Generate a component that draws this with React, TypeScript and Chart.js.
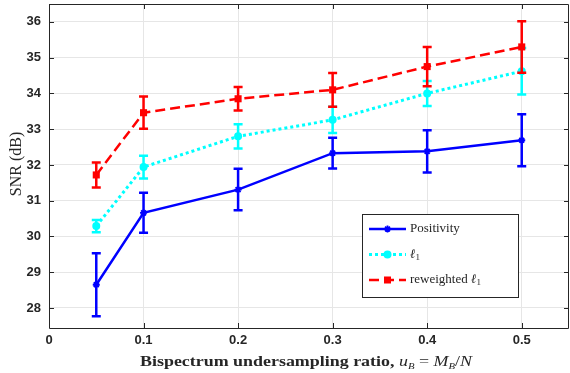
import React, { useEffect, useRef } from 'react';
import { Chart, registerables } from 'chart.js';

Chart.register(...registerables);

const ratios = [0.05, 0.1, 0.2, 0.3, 0.4, 0.5];
const positivity = [28.65, 30.66, 31.31, 32.33, 32.38, 32.69];
const positivityErr = [0.88, 0.56, 0.58, 0.43, 0.59, 0.73];
const l1 = [30.29, 31.94, 32.8, 33.26, 34.0, 34.62];
const l1Err = [0.17, 0.32, 0.34, 0.37, 0.35, 0.65];
const reweighted = [31.72, 33.46, 33.85, 34.1, 34.75, 35.3];
const reweightedErr = [0.35, 0.45, 0.33, 0.47, 0.55, 0.72];
const xTicks = [0, 0.1, 0.2, 0.3, 0.4, 0.5];
const yTicks = [28, 29, 30, 31, 32, 33, 34, 35, 36];

const AXIS = '#262626';
const GRID = '#e6e6e6';
const BLUE = '#0000ff';
const CYAN = '#00ffff';
const RED = '#ff0000';
const SERIF = '"Liberation Serif", "DejaVu Serif", serif';

const errs = [positivityErr, l1Err, reweightedErr];

function drawMarker(ctx: CanvasRenderingContext2D, style: string, x: number, y: number, color: string) {
  ctx.save();
  ctx.setLineDash([]);
  ctx.fillStyle = color;
  ctx.strokeStyle = color;
  if (style === 'star') {
    const r = 3.5;
    ctx.lineWidth = 1.8;
    ctx.beginPath();
    ctx.moveTo(x - r, y); ctx.lineTo(x + r, y);
    ctx.moveTo(x, y - r); ctx.lineTo(x, y + r);
    const d = r * 0.707;
    ctx.moveTo(x - d, y - d); ctx.lineTo(x + d, y + d);
    ctx.moveTo(x - d, y + d); ctx.lineTo(x + d, y - d);
    ctx.stroke();
  } else if (style === 'circle') {
    ctx.beginPath();
    ctx.arc(x, y, 4, 0, Math.PI * 2);
    ctx.fill();
  } else {
    ctx.fillRect(x - 3.5, y - 3.5, 7, 7);
  }
  ctx.restore();
}

export default function App() {
  const ref = useRef<HTMLCanvasElement | null>(null);

  useEffect(() => {
    if (!ref.current) return;

    const errorBars = {
      id: 'errorBars',
      afterDatasetDraw(chart: any, args: any) {
        const ctx = chart.ctx;
        const yScale = chart.scales.y;
        const i = args.index;
        const ds = chart.data.datasets[i];
        const e = errs[i];
        const meta = args.meta;
        ctx.save();
        ctx.strokeStyle = ds.borderColor;
        ctx.lineWidth = 2.5;
        ctx.setLineDash([]);
        meta.data.forEach((pt: any, k: number) => {
          const v = ds.data[k].y;
          const yt = yScale.getPixelForValue(v + e[k]);
          const yb = yScale.getPixelForValue(v - e[k]);
          const x = pt.x;
          ctx.beginPath();
          ctx.moveTo(x, yt); ctx.lineTo(x, yb);
          ctx.moveTo(x - 4.5, yt); ctx.lineTo(x + 4.5, yt);
          ctx.moveTo(x - 4.5, yb); ctx.lineTo(x + 4.5, yb);
          ctx.stroke();
        });
        ctx.restore();
      },
    };

    const frame = {
      id: 'frame',
      afterDraw(chart: any) {
        const ctx = chart.ctx;
        const { left, right, top, bottom } = chart.chartArea;
        const xs = chart.scales.x;
        const ys = chart.scales.y;
        ctx.save();
        ctx.strokeStyle = AXIS;
        ctx.lineWidth = 1;
        ctx.setLineDash([]);
        ctx.beginPath();
        ctx.moveTo(left + 0.5, bottom + 0.5);
        ctx.lineTo(left + 0.5, top + 0.5);
        ctx.lineTo(right - 0.5, top + 0.5);
        ctx.lineTo(right - 0.5, bottom + 0.5);
        ctx.lineTo(left + 0.5, bottom + 0.5);
        xTicks.forEach((v) => {
          const x = Math.round(xs.getPixelForValue(v)) + 0.5;
          ctx.moveTo(x, bottom); ctx.lineTo(x, bottom - 5);
          ctx.moveTo(x, top); ctx.lineTo(x, top + 5);
        });
        yTicks.forEach((v) => {
          const y = Math.round(ys.getPixelForValue(v)) + 0.5;
          ctx.moveTo(left, y); ctx.lineTo(left + 5, y);
          ctx.moveTo(right, y); ctx.lineTo(right - 5, y);
        });
        ctx.stroke();

        // Y title
        ctx.fillStyle = AXIS;
        ctx.save();
        ctx.translate(17, 164);
        ctx.rotate(-Math.PI / 2);
        ctx.font = `16px ${SERIF}`;
        ctx.textAlign = 'center';
        ctx.textBaseline = 'middle';
        ctx.fillText('SNR (dB)', 0, 0);
        ctx.restore();

        // X title with math
        const parts: Array<[string, string, number]> = [
          ['Bispectrum undersampling ratio, ', `bold 15px ${SERIF}`, 0],
          ['u', `italic 15px ${SERIF}`, 0],
          ['B', `italic 9px ${SERIF}`, 3],
          [' = ', `15px ${SERIF}`, 0],
          ['M', `italic 15px ${SERIF}`, 0],
          ['B', `italic 9px ${SERIF}`, 3],
          ['/', `15px ${SERIF}`, 0],
          ['N', `italic 15px ${SERIF}`, 0],
        ];
        let total = 0;
        parts.forEach(([t, f]) => { ctx.font = f; total += ctx.measureText(t).width; });
        const target = 332;
        const sx = target / total;
        ctx.save();
        ctx.translate(306 - target / 2, 366);
        ctx.scale(sx, 1);
        let cx = 0;
        ctx.textAlign = 'left';
        ctx.textBaseline = 'alphabetic';
        parts.forEach(([t, f, dy]) => {
          ctx.font = f;
          ctx.fillText(t, cx, dy);
          cx += ctx.measureText(t).width;
        });
        ctx.restore();

        // Legend
        const lx = 362, ly = 214, lw = 156, lh = 83;
        ctx.fillStyle = '#ffffff';
        ctx.fillRect(lx, ly, lw, lh);
        ctx.strokeStyle = AXIS;
        ctx.lineWidth = 1;
        ctx.strokeRect(lx + 0.5, ly + 0.5, lw, lh);
        const rows: Array<[string, number[], string, string, boolean]> = [
          ['Positivity', [], BLUE, 'star', false],
          ['', [3, 3], CYAN, 'circle', true],
          ['reweighted ', [10, 5], RED, 'rect', true],
        ];
        const rowY = [229, 254.5, 280];
        rows.forEach(([label, dash, color, style, ell], r) => {
          const y = rowY[r];
          ctx.save();
          ctx.strokeStyle = color;
          ctx.lineWidth = r === 1 ? 3 : 2.5;
          ctx.setLineDash(dash);
          ctx.beginPath();
          ctx.moveTo(369, y); ctx.lineTo(406, y);
          ctx.stroke();
          ctx.restore();
          drawMarker(ctx, style, 387.5, y, color);
          ctx.fillStyle = AXIS;
          ctx.textBaseline = 'middle';
          ctx.textAlign = 'left';
          ctx.font = `13px ${SERIF}`;
          let tx = 410;
          if (label) { ctx.fillText(label, tx, y); tx += ctx.measureText(label).width; }
          if (ell) {
            ctx.font = `italic 13px ${SERIF}`;
            ctx.fillText('\u2113', tx, y);
            tx += ctx.measureText('\u2113').width;
            ctx.font = `9px ${SERIF}`;
            ctx.fillText('1', tx, y + 3);
          }
        });
        ctx.restore();
      },
    };

    const mk = (arr: number[]) => arr.map((v, i) => ({ x: ratios[i], y: v }));

    const chart = new Chart(ref.current, {
      type: 'line',
      data: {
        datasets: [
          {
            label: 'Positivity', data: mk(positivity), borderColor: BLUE, backgroundColor: BLUE,
            borderWidth: 2.5, pointStyle: 'star', pointRadius: 3.5, pointBorderWidth: 1.8, order: 2,
          },
          {
            label: 'l1', data: mk(l1), borderColor: CYAN, backgroundColor: CYAN,
            borderWidth: 3, borderDash: [3, 3], pointStyle: 'circle', pointRadius: 4, pointBorderWidth: 0, order: 1,
          },
          {
            label: 'reweighted l1', data: mk(reweighted), borderColor: RED, backgroundColor: RED,
            borderWidth: 2.5, borderDash: [10, 5], pointStyle: 'rect', pointRadius: 5, pointBorderWidth: 0, order: 0,
          },
        ] as any,
      },
      options: {
        animation: false,
        responsive: false,
        layout: { autoPadding: false, padding: { top: 4, right: 1, left: 0, bottom: 0 } },
        plugins: { legend: { display: false }, tooltip: { enabled: false } },
        scales: {
          x: {
            type: 'linear', min: 0, max: 0.55,
            afterBuildTicks: (s: any) => { s.ticks = xTicks.map((v) => ({ value: v })); },
            afterFit: (s: any) => {
              s.height = 45;
              s.paddingLeft = 0; s.paddingRight = 0; s.paddingTop = 0; s.paddingBottom = 0;
            },
            grid: { color: GRID, drawTicks: false, lineWidth: 1 },
            border: { display: false },
            ticks: {
              padding: 5, color: AXIS, font: { family: '"Liberation Sans", Arial, sans-serif', size: 13, weight: 'bold' },
              callback: (v: any) => String(Number(v)),
              maxRotation: 0,
            },
          },
          y: {
            type: 'linear', min: 27.44, max: 36.5,
            afterBuildTicks: (s: any) => { s.ticks = yTicks.map((v) => ({ value: v })); },
            afterFit: (s: any) => {
              s.width = 49;
              s.paddingLeft = 0; s.paddingRight = 0; s.paddingTop = 0; s.paddingBottom = 0;
            },
            grid: { color: GRID, drawTicks: false, lineWidth: 1 },
            border: { display: false },
            ticks: {
              padding: 8, color: AXIS, font: { family: '"Liberation Sans", Arial, sans-serif', size: 13, weight: 'bold' },
              callback: (v: any) => String(v),
            },
          },
        },
      } as any,
      plugins: [errorBars, frame],
    });
    return () => chart.destroy();
  }, []);

  return (
    <div style={{ position: 'absolute', left: 0, top: 0, width: 570, height: 373, background: '#fff' }}>
      <canvas ref={ref} width={570} height={373} style={{ width: 570, height: 373, display: 'block' }} />
    </div>
  );
}
